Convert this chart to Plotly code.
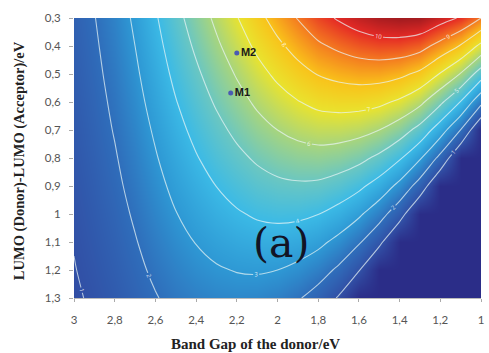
import plotly.graph_objects as go

# Band gap of the donor (eV) and LUMO offset (eV) grid
band_gap = [3.0, 2.9, 2.8, 2.7, 2.6, 2.5, 2.4, 2.3, 2.2, 2.1, 2.0,
            1.9, 1.8, 1.7, 1.6, 1.5, 1.4, 1.3, 1.2, 1.1, 1.0]
lumo_offset = [0.3, 0.4, 0.5, 0.6, 0.7, 0.8, 0.9, 1.0, 1.1, 1.2, 1.3]

# Efficiency (%), one row per LUMO offset
eff_03 = [1.55, 1.97, 2.50, 3.15, 3.90, 4.70, 5.45, 6.20, 6.95, 7.70, 8.40, 9.05, 9.65, 10.10, 10.50, 10.80, 10.95, 10.90, 10.40, 9.90, 9.00]
eff_04 = [1.49, 1.88, 2.39, 3.00, 3.71, 4.45, 5.15, 5.84, 6.52, 7.19, 7.80, 8.35, 8.85, 9.18, 9.45, 9.60, 9.58, 9.34, 8.67, 7.92, 6.75]
eff_05 = [1.42, 1.80, 2.27, 2.85, 3.51, 4.21, 4.84, 5.47, 6.08, 6.67, 7.20, 7.66, 8.04, 8.26, 8.40, 8.40, 8.21, 7.79, 6.93, 5.94, 4.50]
eff_06 = [1.36, 1.71, 2.16, 2.70, 3.32, 3.96, 4.54, 5.11, 5.65, 6.16, 6.60, 6.96, 7.24, 7.35, 7.35, 7.20, 6.84, 6.23, 5.20, 3.96, 2.25]
eff_07 = [1.29, 1.63, 2.05, 2.55, 3.12, 3.71, 4.24, 4.74, 5.21, 5.65, 6.00, 6.27, 6.43, 6.43, 6.30, 6.00, 5.48, 4.67, 3.47, 1.98, 0.00]
eff_08 = [1.23, 1.54, 1.93, 2.40, 2.93, 3.46, 3.94, 4.38, 4.78, 5.13, 5.40, 5.57, 5.63, 5.51, 5.25, 4.80, 4.11, 3.11, 1.73, 0.00, 0.00]
eff_09 = [1.16, 1.46, 1.82, 2.25, 2.73, 3.22, 3.63, 4.01, 4.34, 4.62, 4.80, 4.87, 4.83, 4.59, 4.20, 3.60, 2.74, 1.56, 0.00, 0.00, 0.00]
eff_10 = [1.10, 1.37, 1.70, 2.10, 2.54, 2.97, 3.33, 3.65, 3.91, 4.11, 4.20, 4.18, 4.02, 3.67, 3.15, 2.40, 1.37, 0.00, 0.00, 0.00, 0.00]
eff_11 = [1.03, 1.29, 1.59, 1.95, 2.34, 2.72, 3.03, 3.28, 3.48, 3.59, 3.60, 3.48, 3.22, 2.75, 2.10, 1.20, 0.00, 0.00, 0.00, 0.00, 0.00]
eff_12 = [0.97, 1.20, 1.48, 1.80, 2.15, 2.47, 2.73, 2.92, 3.04, 3.08, 3.00, 2.78, 2.41, 1.84, 1.05, 0.00, 0.00, 0.00, 0.00, 0.00, 0.00]
eff_13 = [0.90, 1.11, 1.36, 1.65, 1.95, 2.23, 2.42, 2.55, 2.61, 2.57, 2.40, 2.09, 1.61, 0.92, 0.00, 0.00, 0.00, 0.00, 0.00, 0.00, 0.00]

# Marked materials
marker_names = ["M2", "M1"]
marker_gap = [2.20, 2.23]
marker_offset = [0.425, 0.568]

# Tick labels (comma decimals)
x_tick_vals = [3.0, 2.8, 2.6, 2.4, 2.2, 2.0, 1.8, 1.6, 1.4, 1.2, 1.0]
x_tick_text = ["3", "2,8", "2,6", "2,4", "2,2", "2", "1,8", "1,6", "1,4", "1,2", "1"]
y_tick_vals = [0.3, 0.4, 0.5, 0.6, 0.7, 0.8, 0.9, 1.0, 1.1, 1.2, 1.3]
y_tick_text = ["0,3", "0,4", "0,5", "0,6", "0,7", "0,8", "0,9", "1", "1,1", "1,2", "1,3"]

z = [eff_03, eff_04, eff_05, eff_06, eff_07, eff_08, eff_09, eff_10, eff_11, eff_12, eff_13]

colorscale = [
    [0.00, "#2b2d88"],
    [1 / 11, "#3150a6"],
    [2 / 11, "#2f6ebb"],
    [3 / 11, "#2e98d4"],
    [4 / 11, "#3bbae6"],
    [5 / 11, "#6cc7c0"],
    [6 / 11, "#a8d57c"],
    [7 / 11, "#e9e32e"],
    [8 / 11, "#f9c21a"],
    [9 / 11, "#f47b20"],
    [10 / 11, "#e52a25"],
    [1.00, "#9e1a1f"],
]

fig = go.Figure()
fig.add_trace(go.Contour(
    x=band_gap, y=lumo_offset, z=z,
    colorscale=colorscale, zmin=0, zmax=11,
    contours=dict(coloring="heatmap", start=1, end=10, size=1,
                  showlabels=True,
                  labelfont=dict(size=6, color="rgba(255,255,255,0.8)")),
    line=dict(color="rgba(232,244,244,0.72)", width=1.1, smoothing=1),
    showscale=False, hoverinfo="skip",
))
fig.add_trace(go.Scatter(
    x=marker_gap, y=marker_offset, mode="markers+text",
    text=["<b>" + n + "</b>" for n in marker_names],
    textposition="middle right",
    textfont=dict(family="Liberation Sans", size=11, color="#1a1a1a"),
    marker=dict(color="#4a5cb3", size=5),
    showlegend=False, hoverinfo="skip",
))

axis_font = dict(family="Lato", size=11.5, color="#555555")
fig.update_xaxes(range=[3, 1], tickvals=x_tick_vals, ticktext=x_tick_text,
                 ticks="outside", ticklen=3, tickcolor="#aaaaaa",
                 showline=True, linecolor="#bbbbbb", linewidth=1,
                 showgrid=False, zeroline=False, tickfont=axis_font,
                 ticklabelstandoff=8)
fig.update_yaxes(range=[1.3, 0.3], tickvals=y_tick_vals, ticktext=y_tick_text,
                 ticks="outside", ticklen=4, tickcolor="#aaaaaa",
                 showline=False, showgrid=False, zeroline=False,
                 tickfont=axis_font, ticklabelstandoff=6)

fig.update_layout(
    width=489, height=353,
    margin=dict(l=74, r=8, t=18, b=55, autoexpand=False),
    paper_bgcolor="white", plot_bgcolor="white",
    showlegend=False,
    annotations=[
        dict(text="<b>Band Gap of the donor/eV</b>", xref="paper", yref="paper",
             x=0.445, y=-0.164, xanchor="center", yanchor="middle",
             showarrow=False,
             font=dict(family="Liberation Serif", size=15, color="#222222")),
        dict(text="<b>LUMO (Donor)-LUMO (Acceptor)/eV</b>", xref="paper", yref="paper",
             x=-0.135, y=0.489, xanchor="center", yanchor="middle",
             textangle=-90, showarrow=False,
             font=dict(family="Liberation Serif", size=14.5, color="#222222")),
        dict(text="(a)", xref="paper", yref="paper",
             x=0.509, y=0.196, xanchor="center", yanchor="middle",
             showarrow=False,
             font=dict(family="DejaVu Serif", size=41, color="#121425")),
    ],
)

fig.write_html("out.html")
